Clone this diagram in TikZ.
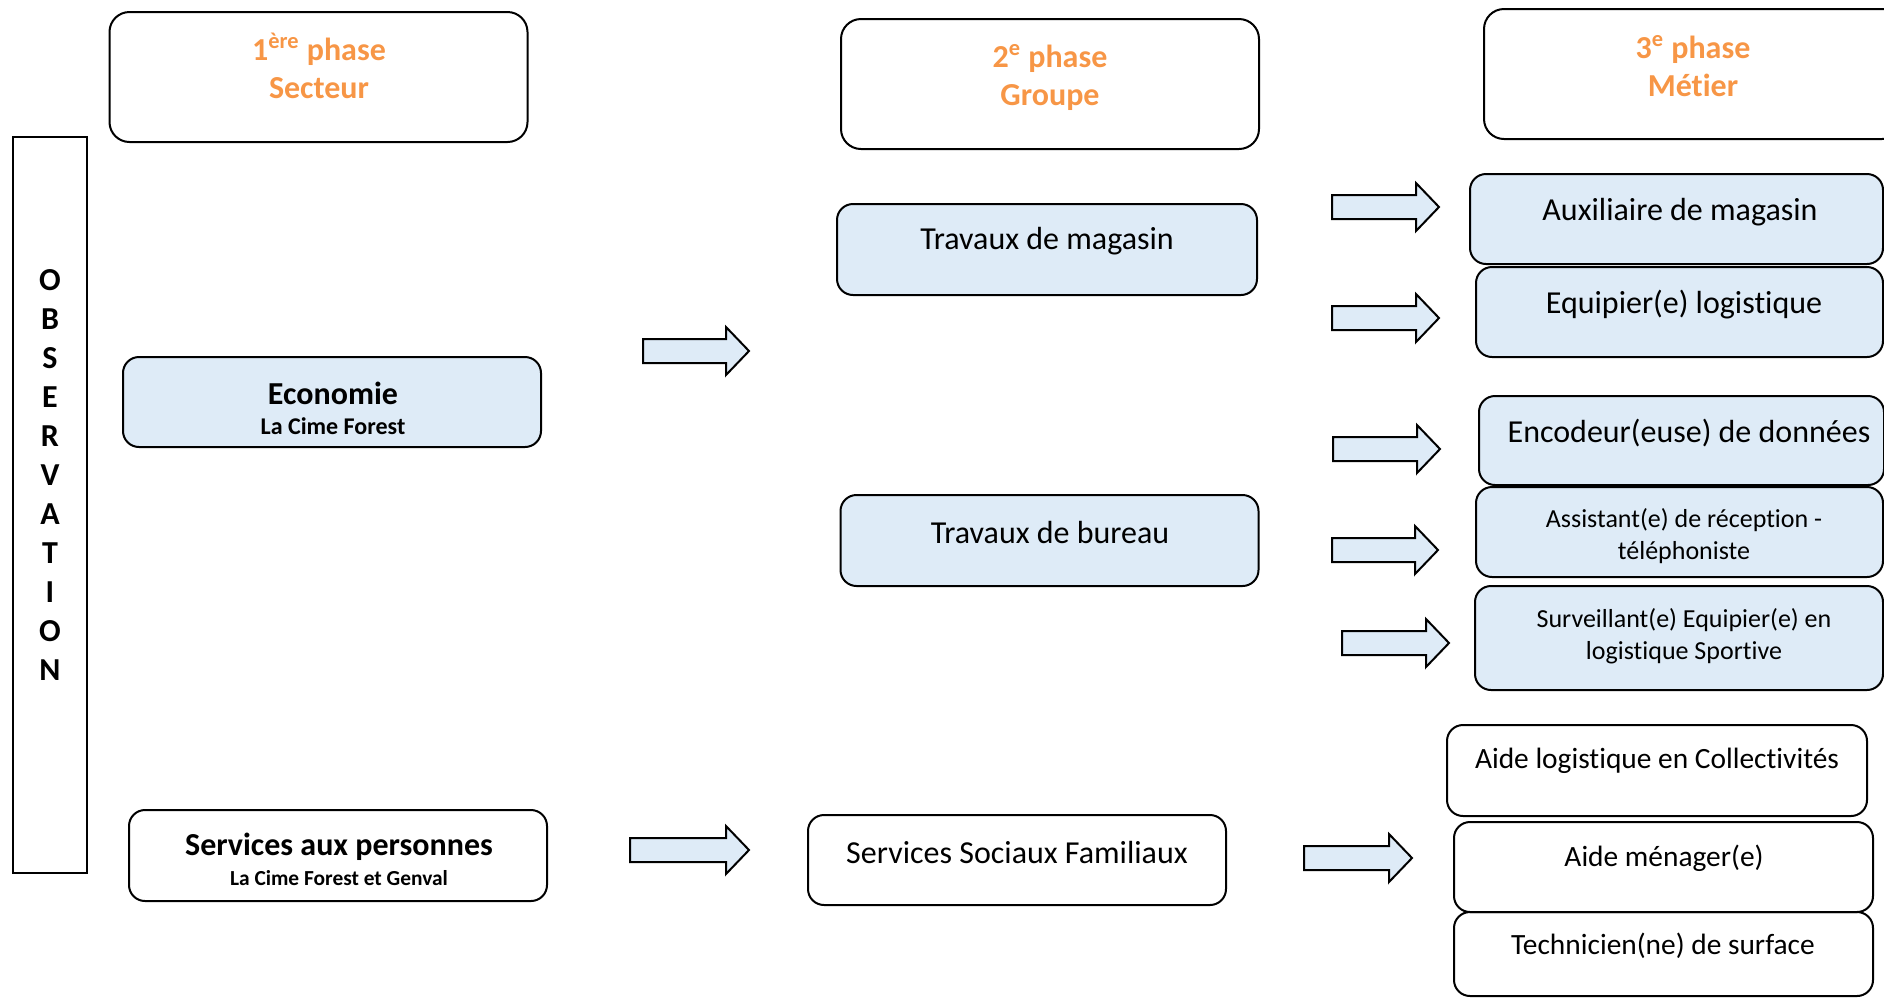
\documentclass[tikz,border=0pt]{standalone}
\usepackage{fontspec}
\setmainfont{Carlito}[Ligatures=NoCommon]
\usetikzlibrary{positioning}
\definecolor{phaseorange}{HTML}{F79646}
\definecolor{boxblue}{HTML}{DEEBF7}
\tikzset{
  phasebox/.style={draw, line width=1pt, rounded corners=10pt, minimum width=209pt, minimum height=65pt},
  jobbox/.style={draw, line width=1pt, rounded corners=8pt, minimum width=209pt, minimum height=45pt},
  bluebox/.style={jobbox, fill=boxblue},
  phasetxt/.style={text=phaseorange, font=\bfseries\fontsize{16}{19}\selectfont, align=center, inner sep=0pt},
  txt/.style={font=\fontsize{16}{19}\selectfont, align=center, inner sep=0pt},
  lowtxt/.style={font=\fontsize{14.7}{18}\selectfont, align=center, inner sep=0pt},
  boldtxt/.style={font=\bfseries\fontsize{16}{19}\selectfont, align=center, inner sep=0pt},
  subtxt/.style={font=\bfseries\fontsize{10.7}{12}\selectfont, align=center, inner sep=0pt},
  smalltxt/.style={font=\fontsize{13}{16}\selectfont, align=center, inner sep=0pt},
  blkarr/.style={draw, line width=1pt, fill=boxblue, line join=miter}
}
% block arrow: #1 = tail coordinate, #2 = length (px)
\newcommand{\blkarrow}[2]{%
  \draw[blkarr] (#1) ++(0,-12) -- ++(#2-23,0) -- ++(0,-12) -- ++(23,24)
    -- ++(-23,24) -- ++(0,-12) -- ++(-#2+23,0) -- cycle;}
\begin{document}
\begin{tikzpicture}[x=0.5pt, y=-0.5pt]
  \clip (0,0) rectangle (1884,998);
  % phases
  \node[phasebox] (ph1) at (318.5,77) {};
  \node[phasebox] (ph2) at (1050,84) {};
  \node[phasebox] (ph3) at (1693,74) {};
  \node[phasetxt] (ph1t) at (319,66) {1\textsuperscript{ère} phase\\Secteur};
  \node[phasetxt] (ph2t) at (1050,77.5) {2\textsuperscript{e} phase\\Groupe};
  \node[phasetxt] (ph3t) at (1693,66) {3\textsuperscript{e} phase\\Métier};
  % observation
  \node[draw, line width=1pt, minimum width=37pt, minimum height=368pt] (obs) at (50,505) {};
  \node[font=\bfseries\fontsize{16}{19.5}\selectfont, align=center, inner sep=0pt] (obst) at (50,475)
    {O\\B\\S\\E\\R\\V\\A\\T\\I\\O\\N};
  % secteurs
  \node[bluebox] (eco) at (332,402) {};
  \node[boldtxt] (ecot) at (333,393) {Economie};
  \node[subtxt, font=\bfseries\fontsize{12}{14}\selectfont] (ecos) at (333,426) {La Cime Forest};
  \node[jobbox, minimum height=45.5pt] (srvp) at (338,855.5) {};
  \node[boldtxt] (srvpt) at (339,847) {Services aux personnes};
  \node[subtxt] (srvps) at (339,878) {La Cime Forest et Genval};
  % groupes
  \node[bluebox, minimum width=210pt, minimum height=45.5pt] (mag) at (1047,249.5) {};
  \node[txt] (magt) at (1047,241) {Travaux de magasin};
  \node[bluebox, minimum height=45.5pt] (bur) at (1049.5,540.5) {};
  \node[txt] (burt) at (1050,532) {Travaux de bureau};
  \node[jobbox] (ssf) at (1017,860) {};
  \node[txt] (ssft) at (1017,852) {Services Sociaux Familiaux};
  % metiers
  \node[bluebox, minimum width=206.5pt] (aux) at (1676.5,219) {};
  \node[txt] (auxt) at (1680,212) {Auxiliaire de magasin};
  \node[bluebox, minimum width=203.5pt] (equ) at (1679.5,312) {};
  \node[txt] (equt) at (1684,305) {Equipier(e) logistique};
  \node[bluebox, minimum width=202.5pt, minimum height=44.5pt] (enc) at (1681.5,440.5) {};
  \node[txt] (enct) at (1689,433) {Encodeur(euse) de données};
  \node[bluebox, minimum width=203.5pt] (ass) at (1679.5,532) {};
  \node[smalltxt] (asst) at (1684,536) {Assistant(e) de réception -\\téléphoniste};
  \node[bluebox, minimum width=204pt, minimum height=52pt] (sur) at (1679,638) {};
  \node[smalltxt] (surt) at (1684,636) {Surveillant(e) Equipier(e) en\\logistique Sportive};
  \node[jobbox, minimum width=210pt, minimum height=45.5pt] (alc) at (1657,770.5) {};
  \node[lowtxt] (alct) at (1657,761) {Aide logistique en Collectivités};
  \node[jobbox, minimum width=209.5pt] (amg) at (1663.5,867) {};
  \node[lowtxt] (amgt) at (1664,858) {Aide ménager(e)};
  \node[jobbox, minimum width=209.5pt, minimum height=42pt] (tec) at (1663.5,954) {};
  \node[lowtxt] (tect) at (1663,946) {Technicien(ne) de surface};
  % fleches
  \coordinate (aeco) at (643,351);
  \coordinate (asrv) at (630,850);
  \coordinate (aaux) at (1332,207);
  \coordinate (aequ) at (1332,318);
  \coordinate (aenc) at (1333,449);
  \coordinate (aass) at (1332,550);
  \coordinate (asur) at (1342,643);
  \coordinate (assf) at (1304,858);
  \blkarrow{aeco}{106}
  \blkarrow{asrv}{119}
  \blkarrow{aaux}{107}
  \blkarrow{aequ}{107}
  \blkarrow{aenc}{107}
  \blkarrow{aass}{106}
  \blkarrow{asur}{107}
  \blkarrow{assf}{108}
\end{tikzpicture}
\end{document}
